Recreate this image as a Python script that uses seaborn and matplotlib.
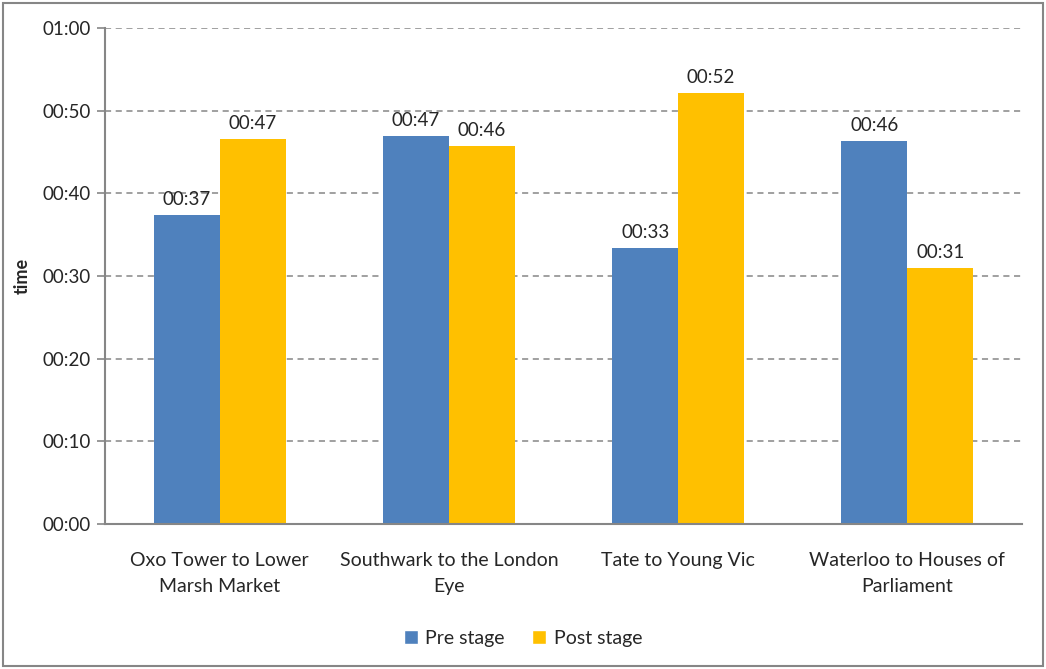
import matplotlib
matplotlib.use("Agg")
import matplotlib.pyplot as plt
import matplotlib.ticker as mticker
from matplotlib.patches import Rectangle, Patch
import pandas as pd
import seaborn as sns

# values in seconds (axis shows mm:ss)
routes = ["Oxo Tower to Lower\nMarsh Market", "Southwark to the London\nEye",
          "Tate to Young Vic", "Waterloo to Houses of\nParliament"]
pre_stage = [37.4, 46.9, 33.4, 46.3]
post_stage = [46.6, 45.7, 52.1, 31.0]
stages = ["Pre stage", "Post stage"]
colors = ["#4F81BD", "#FFC000"]

df = pd.DataFrame({
    "route": routes * 2,
    "time": pre_stage + post_stage,
    "stage": [stages[0]] * 4 + [stages[1]] * 4,
})

sns.set_style("white")
plt.rcParams["font.family"] = ["Lato", "DejaVu Sans"]


def mmss(v, pos=None):
    s = int(round(v))
    return "%02d:%02d" % (s // 60, s % 60)


fig = plt.figure(figsize=(10.46, 6.69), dpi=100)
ax = fig.add_axes([0.1004, 0.2167, 0.8766, 0.7413])
sns.barplot(data=df, x="route", y="time", hue="stage", palette=colors,
            saturation=1, width=0.575, linewidth=0, ax=ax, legend=False)

ax.set_xlim(-0.5, 3.5)
ax.set_ylim(0, 60)
ax.yaxis.set_major_locator(mticker.MultipleLocator(10))
ax.yaxis.set_major_formatter(mticker.FuncFormatter(mmss))
ax.grid(axis="y", color="#868686", linestyle=(0, (4, 3)), linewidth=1.1)
ax.set_axisbelow(True)

for c in ax.containers:
    ax.bar_label(c, labels=[mmss(b.get_height()) for b in c], padding=5, fontsize=13.5)

for side in ["top", "right"]:
    ax.spines[side].set_visible(False)
for side in ["left", "bottom"]:
    ax.spines[side].set_color("#868686")
    ax.spines[side].set_linewidth(1.5)

ax.set_xticks([-0.5, 0.5, 1.5, 2.5, 3.5], minor=True)
ax.tick_params(axis="x", which="major", length=0, pad=20, labelsize=14)
for lab in ax.get_xticklabels():
    lab.set_linespacing(1.65)
ax.tick_params(axis="x", which="minor", length=6, width=1.2, color="#868686", direction="out")
ax.tick_params(axis="y", length=6, width=1.2, color="#868686", direction="out", labelsize=13.5, pad=4,
               left=True)
ax.set_xlabel("")
ax.set_ylabel("time", fontsize=13, fontweight="bold", labelpad=9)

handles = [Patch(facecolor=col, label=lab) for col, lab in zip(colors, stages)]
fig.legend(handles=handles, loc="center", bbox_to_anchor=(0.5, 0.046), ncol=2, frameon=False,
           fontsize=14, handlelength=0.7, handleheight=0.7, handletextpad=0.4, columnspacing=1.4)

fig.patches.append(Rectangle((0.003, 0.004), 0.994, 0.992, transform=fig.transFigure,
                             fill=False, edgecolor="#868686", linewidth=1.5))

fig.savefig("out.png", dpi=100)
